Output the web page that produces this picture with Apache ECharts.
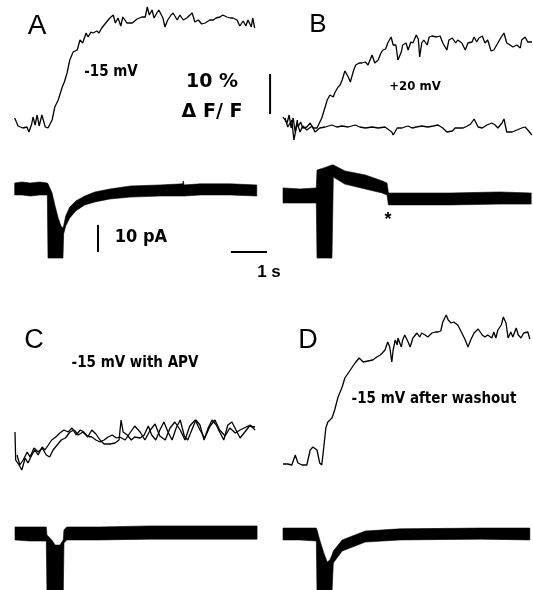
<!DOCTYPE html>
<html>
<head>
<meta charset="utf-8">
<script src="https://cdn.jsdelivr.net/npm/echarts@6/dist/echarts.min.js"></script>
<style>
html,body{margin:0;padding:0;background:#fff;}
#chart{width:533px;height:590px;}
</style>
</head>
<body>
<div id="chart"></div>
<script>
// ---------------- DATA (time in s, fluorescence in % dF/F, current in pA) ----------------
// Panel A: -15 mV, fluorescence
const fluoA = [[0.01,2.5],[0.06,0.5],[0.13,0],[0.19,0.25],[0.22,-1],[0.26,1],[0.28,2.75],[0.31,0.75],[0.34,3.25],[0.37,0.5],[0.41,3.25],[0.46,0.25],[0.50,0],[0.56,2],[0.60,5.25],[0.65,7],[0.71,10.25],[0.74,11.5],[0.78,13.75],[0.82,17],[0.87,19],[0.93,19.5],[0.97,22],[1.01,21.25],[1.06,23.75],[1.09,22.75],[1.13,24],[1.16,23.75],[1.22,24.25],[1.25,23.75],[1.29,25],[1.35,26.25],[1.41,27.5],[1.46,28.25],[1.49,26.25],[1.53,27.5],[1.57,25.5],[1.60,27.75],[1.66,26.25],[1.68,25.75],[1.74,26.25],[1.81,27.25],[1.88,27.75],[1.93,27.75],[1.96,30.25],[1.99,28.25],[2.03,29.5],[2.06,27.5],[2.10,28.75],[2.13,29.5],[2.19,27.5],[2.22,25.25],[2.26,27],[2.31,28.25],[2.34,28.75],[2.40,27],[2.44,28.25],[2.49,27],[2.54,27.5],[2.62,28.75],[2.66,26.5],[2.71,27],[2.76,26],[2.81,26.25],[2.88,27],[2.93,27],[2.97,27.5],[3.03,27.75],[3.07,28.25],[3.13,27.75],[3.18,27.5],[3.22,27.5],[3.28,27],[3.32,25.5],[3.37,26.75],[3.41,25.5],[3.44,27],[3.49,25.25],[3.51,27.5],[3.54,25]];
// Panel B: +20 mV, two fluorescence traces
const fluoB1 = [[0,2.5],[0.06,1],[0.09,3],[0.12,-0.25],[0.15,2.25],[0.18,-1.25],[0.21,1.75],[0.22,0],[0.26,1.25],[0.29,-0.25],[0.35,0],[0.40,1],[0.44,-0.25],[0.50,-0.25],[0.57,2.25],[0.62,5],[0.65,6.75],[0.69,8],[0.74,7.5],[0.76,8.5],[0.81,10],[0.84,10.5],[0.87,11.75],[0.91,14],[0.96,12.5],[0.99,11.25],[1.01,11],[1.04,14.25],[1.07,15.5],[1.12,16],[1.16,16],[1.21,16.25],[1.25,15.5],[1.31,18],[1.35,16],[1.40,16.75],[1.44,18.5],[1.47,19.25],[1.51,19.5],[1.54,21],[1.59,22.5],[1.62,20.5],[1.66,20.5],[1.69,16.75],[1.74,18.75],[1.76,20.5],[1.81,21],[1.84,19.25],[1.88,21.25],[1.91,21],[1.96,23],[1.99,22],[2.01,17.5],[2.04,21],[2.07,21.75],[2.12,20.5],[2.15,22.5],[2.19,22.75],[2.26,22.5],[2.31,22.75],[2.35,21],[2.41,19.25],[2.44,21.75],[2.49,22.25],[2.54,21],[2.57,21.75],[2.63,21],[2.68,19.25],[2.72,21],[2.78,21.25],[2.81,22.5],[2.85,21.25],[2.88,22.25],[2.93,22.75],[2.97,21],[3.01,21.75],[3.06,19],[3.10,19.25],[3.16,21],[3.21,22.5],[3.25,23.5],[3.29,21],[3.34,20.5],[3.38,20],[3.44,20.5],[3.49,19.75],[3.51,21.75],[3.56,22.5],[3.60,21.25],[3.66,21.25]];
const fluoB2 = [[0.03,2.25],[0.07,0],[0.13,1.75],[0.16,-3.25],[0.21,1],[0.25,-1.25],[0.29,0.25],[0.35,-0.75],[0.43,0.25],[0.47,-1.25],[0.54,-0.25],[0.62,0],[0.72,0.5],[0.79,0],[0.87,0.25],[0.96,0],[1.06,0.5],[1.13,0],[1.21,-0.25],[1.31,0],[1.40,-0.25],[1.50,0],[1.60,-1.25],[1.62,-2],[1.68,-0.25],[1.75,-0.25],[1.79,0],[1.84,0.25],[1.90,-0.25],[1.96,0],[2.04,0.25],[2.13,0],[2.21,0.25],[2.28,0.5],[2.35,-0.25],[2.41,-1.25],[2.49,-1],[2.53,-0.25],[2.60,-0.25],[2.65,-0.25],[2.71,0.25],[2.76,0.75],[2.81,2],[2.87,0],[2.93,-0.25],[3.00,0.5],[3.07,1],[3.12,0.5],[3.16,-0.25],[3.22,1],[3.25,2],[3.29,-1.25],[3.37,-1.25],[3.44,-0.75],[3.51,-0.25],[3.56,0],[3.60,-0.75],[3.66,-2]];
// Panel C: -15 mV with APV, two fluorescence traces
const fluoC1 = [[0,5.75],[0.01,-1.25],[0.06,-2.5],[0.10,-3.75],[0.15,-0.75],[0.19,-2],[0.24,-0.25],[0.29,1.25],[0.34,0],[0.40,2],[0.44,1.25],[0.49,2.5],[0.54,3.75],[0.60,4.5],[0.66,5.5],[0.72,6.25],[0.78,5.75],[0.84,6.75],[0.90,5],[0.96,6.25],[1.01,5.75],[1.07,4.5],[1.13,6.25],[1.19,5.25],[1.25,3.75],[1.31,2.75],[1.40,2.75],[1.47,3],[1.53,3.75],[1.56,8.75],[1.59,5.75],[1.65,5],[1.71,3.75],[1.76,4.5],[1.84,4.25],[1.90,5],[1.96,7.25],[2.01,5],[2.07,3.75],[2.13,6.25],[2.19,8.25],[2.25,5.75],[2.31,3.75],[2.37,6.75],[2.43,8.75],[2.49,4.75],[2.54,3.75],[2.60,6.25],[2.66,8.75],[2.72,7.5],[2.78,3.75],[2.84,6.75],[2.90,8.75],[2.96,7.5],[3.01,5.75],[3.07,3.75],[3.13,7.5],[3.19,8.25],[3.25,6.25],[3.31,4.25],[3.38,5.75],[3.46,7.5],[3.53,6.25]];
const fluoC2 = [[0.03,0],[0.07,-2.5],[0.12,-1.25],[0.18,0.75],[0.22,-0.5],[0.28,1.75],[0.34,0.75],[0.40,1.75],[0.46,0],[0.51,-0.5],[0.56,1.25],[0.62,2.5],[0.68,3.75],[0.74,4.25],[0.81,5.75],[0.87,6.25],[0.93,5],[1.00,5.75],[1.06,4.75],[1.13,4.5],[1.19,3.75],[1.25,3.25],[1.31,3.75],[1.37,4.5],[1.43,5],[1.49,4.25],[1.54,4.5],[1.62,3.75],[1.69,5.5],[1.76,7.25],[1.84,5.75],[1.91,3.75],[1.99,6.25],[2.06,7.75],[2.13,4.75],[2.21,3.75],[2.28,6.75],[2.35,8.25],[2.43,6.25],[2.50,3.75],[2.57,7.25],[2.65,8.75],[2.72,6.25],[2.79,4.25],[2.87,7.25],[2.94,8.75],[3.01,6.25],[3.09,4.75],[3.16,6.75],[3.24,5.5],[3.31,6.25],[3.43,7.25],[3.53,7]];
// Panel D: -15 mV after washout
const fluoD = [[0,0],[0.07,0],[0.13,-0.25],[0.18,2.25],[0.22,0.25],[0.28,-0.25],[0.35,-0.25],[0.40,3.5],[0.44,4.25],[0.50,3.5],[0.54,0.25],[0.57,-0.25],[0.60,4.25],[0.63,9],[0.66,10.5],[0.72,11.5],[0.76,13.5],[0.81,16.75],[0.87,19.25],[0.91,21.5],[0.99,23.5],[1.06,25.25],[1.12,26.5],[1.18,25.5],[1.25,25.75],[1.32,26],[1.38,26.75],[1.43,27.25],[1.46,27.75],[1.50,28.5],[1.54,30.5],[1.57,29.25],[1.60,25.5],[1.62,28.5],[1.65,31],[1.68,29.75],[1.69,31.5],[1.74,29.25],[1.76,31],[1.79,32.25],[1.84,30.5],[1.87,29.25],[1.91,31.5],[1.97,32.75],[2.01,31.75],[2.04,32.75],[2.09,32.25],[2.13,31.75],[2.19,32.75],[2.24,33],[2.28,33],[2.32,33.25],[2.35,35.5],[2.40,37.25],[2.43,36],[2.47,35.25],[2.51,35.5],[2.57,34.75],[2.63,32.75],[2.68,31],[2.72,29.25],[2.76,31],[2.81,32.75],[2.87,33.75],[2.93,32.25],[2.97,31.75],[3.01,32.25],[3.07,31.5],[3.10,33],[3.13,31.5],[3.16,33.5],[3.21,34.75],[3.24,36.75],[3.28,35.25],[3.31,31.5],[3.35,33],[3.38,31.75],[3.43,34],[3.46,32.25],[3.50,31.5],[3.54,32.75],[3.60,33],[3.63,31.25]];

// Whole-cell currents: [time s, upper edge pA, lower edge pA] of the recorded noise band
const currA = [[0.01,2.2,-2.2],[0.12,2.6,-2.2],[0.24,2.2,-2.6],[0.38,2.6,-2.2],[0.49,2.2,-2.2],[0.50,1.9,-25.6],[0.56,-1.5,-25.6],[0.60,-5.9,-25.6],[0.65,-10.7,-25.6],[0.69,-13.7,-25.6],[0.72,-14.4,-25.6],[0.73,-13.7,-16.7],[0.76,-10,-13.7],[0.82,-6.7,-10.7],[0.91,-4.4,-8.1],[1.04,-2.6,-5.9],[1.19,-1.1,-4.8],[1.41,0,-3.7],[1.71,1.1,-3],[2.15,1.5,-2.6],[2.48,1.9,-2.6],[2.49,3,-2.6],[2.50,1.5,-2.6],[2.74,1.9,-2.2],[3.18,1.9,-2.2],[3.57,1.5,-2.6]];
const currB = [[0,3,-2.6],[0.25,2.6,-2.6],[0.49,3,-2.6],[0.50,9.6,-23],[0.60,10.4,-23],[0.72,11.5,-23],[0.74,11.5,7],[0.91,9.3,4.4],[1.21,7.8,2.6],[1.46,5.6,1.1],[1.53,4.8,0.4],[1.55,1.1,-3.3],[1.72,1.1,-3.3],[2.46,1.1,-3.3],[3.19,1.5,-3],[3.65,1.1,-3]];
const currC = [[0,2.6,-2.2],[0.22,2.6,-2.6],[0.46,2.6,-2.6],[0.47,-0.4,-22],[0.54,-2.2,-22],[0.59,-4.1,-22],[0.66,-4.1,-22],[0.71,-2.2,-22],[0.72,1.5,-3.3],[0.76,2.6,-2.2],[1.25,2.6,-2.2],[1.99,3,-1.9],[2.72,3,-1.9],[3.56,3,-1.9]];
const currD = [[0,2.2,-2.2],[0.25,2.2,-2.2],[0.49,2.2,-2.6],[0.50,1.5,-22],[0.54,-2.2,-22],[0.60,-7,-22],[0.65,-10.4,-22],[0.69,-9.6,-22],[0.72,-7.8,-22],[0.74,-6.3,-10.7],[0.87,-2.2,-6.3],[1.21,1.1,-3],[1.72,1.9,-2.2],[2.90,2.2,-1.9],[3.63,2.2,-2.2]];

// Scale bars (data units)
const barDFF = [3.25, 13.25];   // 10 % dF/F
const barPA = [-23.3, -13.3];   // 10 pA
const barS = [3.19, 4.19];      // 1 s

// ---------------- LAYOUT ----------------
const PX_S = 68, PX_PCT = 4, PX_PA = 2.7;
const grids = [], xAxes = [], yAxes = [], series = [];
function panel(box, x0, y0, sy) {
  const i = grids.length;
  grids.push({left: box[0], top: box[1], width: box[2], height: box[3], show: false});
  xAxes.push({type: 'value', gridIndex: i, show: false, min: (box[0] - x0) / PX_S, max: (box[0] + box[2] - x0) / PX_S});
  yAxes.push({type: 'value', gridIndex: i, show: false, min: (y0 - box[1] - box[3]) / sy, max: (y0 - box[1]) / sy});
  return i;
}
const gAF = panel([0, 0, 266, 150], 14, 128, PX_PCT);
const gBF = panel([266, 0, 267, 150], 283, 127, PX_PCT);
const gAI = panel([0, 150, 266, 120], 14, 189, PX_PA);
const gBI = panel([266, 150, 267, 120], 283, 196, PX_PA);
const gCF = panel([0, 380, 266, 110], 15, 455, PX_PCT);
const gDF = panel([266, 300, 267, 190], 283, 464, PX_PCT);
const gCI = panel([0, 490, 266, 100], 15, 534, PX_PA);
const gDI = panel([266, 490, 267, 100], 283, 534, PX_PA);

function trace(g, data, w) {
  series.push({type: 'line', xAxisIndex: g, yAxisIndex: g, data: data, symbol: 'none', clip: false,
    silent: true, lineStyle: {color: '#000', width: w || 1.3}});
}
// current noise band: polygon between upper and lower edges, positioned by the axes
function band(g, env) {
  series.push({type: 'custom', xAxisIndex: g, yAxisIndex: g, data: env, clip: false, silent: true,
    encode: {x: 0, y: [1, 2]},
    renderItem: function (params, api) {
      if (params.dataIndex !== 0) return null;
      const pts = [];
      for (let k = 0; k < env.length; k++) pts.push(api.coord([env[k][0], env[k][1]]));
      for (let k = env.length - 1; k >= 0; k--) pts.push(api.coord([env[k][0], env[k][2]]));
      return {type: 'polygon', shape: {points: pts}, style: {fill: '#000', stroke: '#000', lineWidth: 0.6, lineJoin: 'round'}};
    }});
}
trace(gAF, fluoA);
trace(gBF, fluoB1);
trace(gBF, fluoB2);
trace(gCF, fluoC1);
trace(gCF, fluoC2);
trace(gDF, fluoD);
band(gAI, currA);
band(gBI, currB);
band(gCI, currC);
band(gDI, currD);
// scale bars
trace(gBF, [[-0.19, barDFF[0]], [-0.19, barDFF[1]]], 2);
trace(gAI, [[1.235, barPA[0]], [1.235, barPA[1]]], 2);
trace(gAI, [[barS[0], barPA[0]], [barS[1], barPA[0]]], 2);

const LBL = '"Liberation Sans Narrow", "DejaVu Sans Condensed", "Liberation Sans", sans-serif';
const LET = '"Liberation Sans", Arial, sans-serif';
const WIDE = '"DejaVu Sans", "Liberation Sans", sans-serif';
function txt(s, x, y, font) {
  return {type: 'text', x: x, y: y, z: 100, style: {text: s, font: font, fill: '#000', textAlign: 'center', textVerticalAlign: 'middle'}};
}
const graphics = [
  txt('A', 37, 26, 'normal 28px ' + LET),
  txt('B', 318, 25, 'normal 26px ' + LET),
  txt('C', 34, 341, 'normal 27px ' + LET),
  txt('D', 308, 341, 'normal 27px ' + LET),
  txt('-15 mV', 111, 72, 'bold 15px ' + LBL),
  txt('10 %', 212, 82, 'bold 19px ' + WIDE),
  txt('\u0394 F/ F', 212, 112, 'bold 19px ' + WIDE),
  txt('+20 mV', 415, 87, 'bold 13px ' + LBL),
  txt('10 pA', 141, 237, 'bold 18px ' + LBL),
  txt('1 s', 269, 272, 'bold 17px ' + LET),
  txt('*', 388, 220, 'bold 18px ' + LET),
  txt('-15 mV with APV', 135, 363, 'bold 15px ' + LBL),
  txt('-15 mV after washout', 434, 399, 'bold 15px ' + LBL)
];

const chart = echarts.init(document.getElementById('chart'), null, {renderer: 'canvas'});
chart.setOption({
  animation: false,
  backgroundColor: '#fff',
  grid: grids, xAxis: xAxes, yAxis: yAxes,
  series: series,
  graphic: graphics
});
</script>
</body>
</html>
